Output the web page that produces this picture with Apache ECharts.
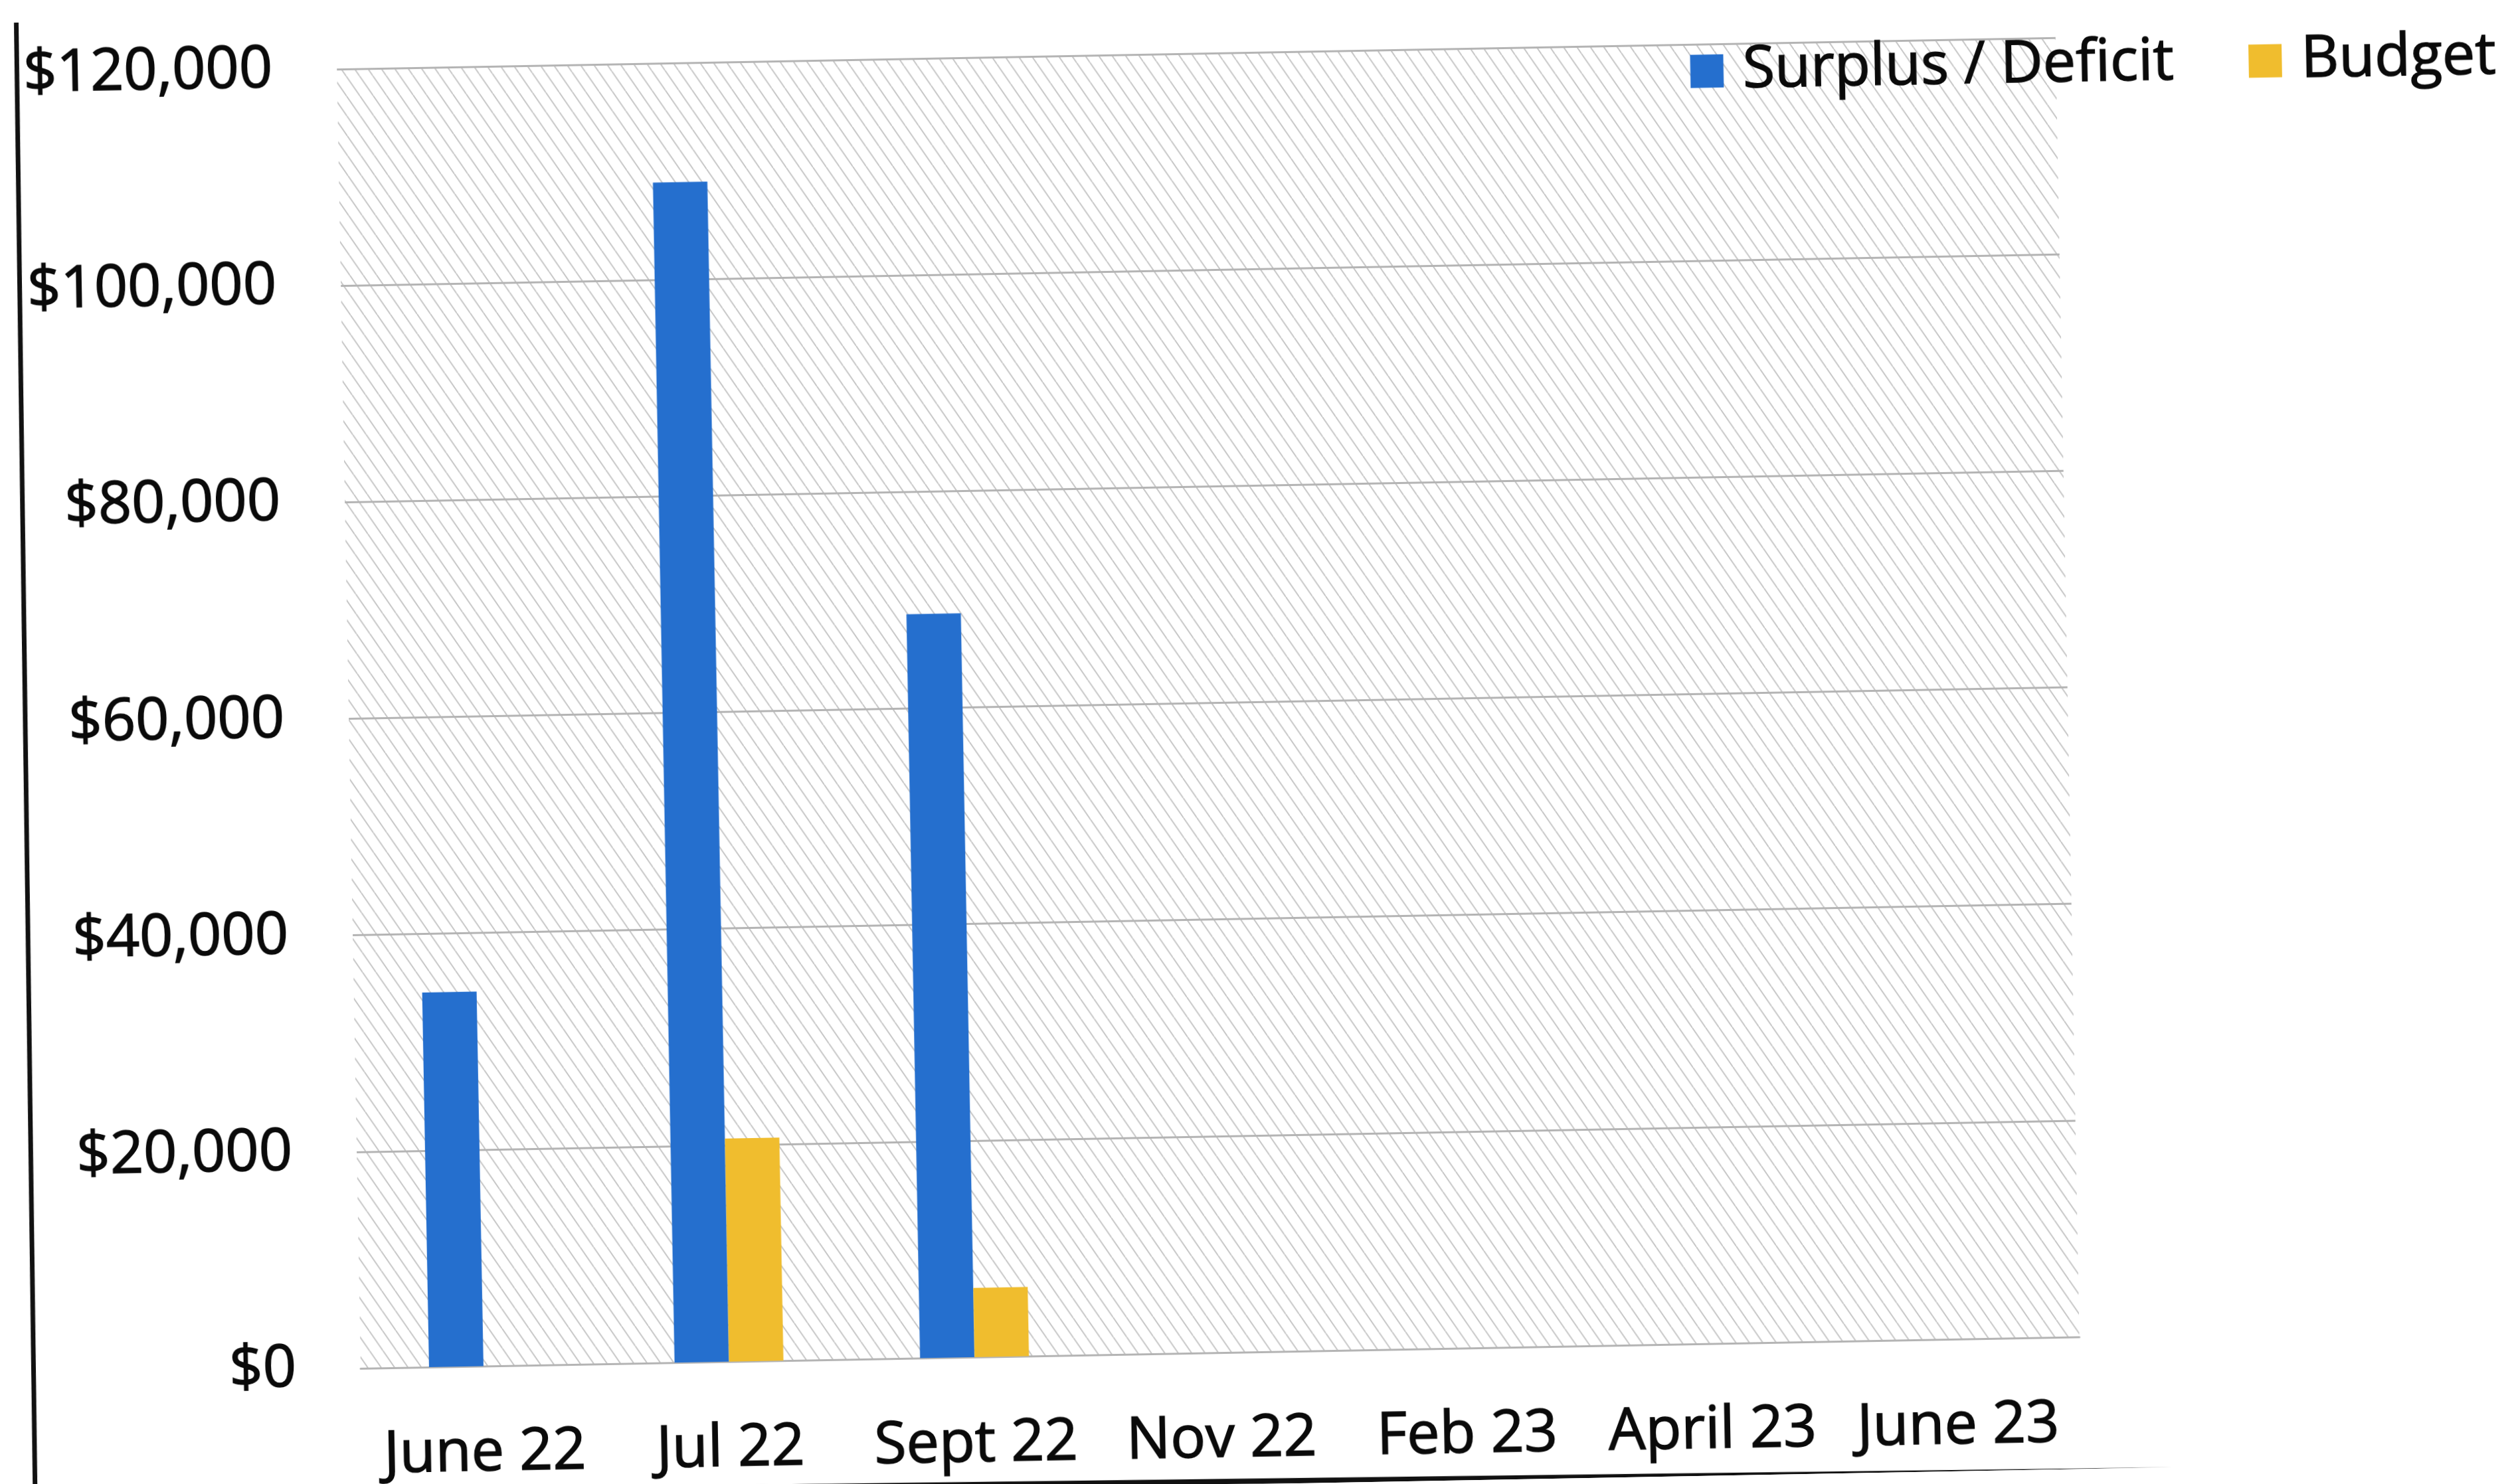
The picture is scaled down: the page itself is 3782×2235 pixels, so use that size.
<!DOCTYPE html>
<html>
<head>
<meta charset="utf-8">
<script src="https://cdn.jsdelivr.net/npm/echarts@6/dist/echarts.min.js"></script>
<style>
  html, body { margin: 0; padding: 0; background: #fff; overflow: hidden; }
  #wrap { position: relative; width: 3782px; height: 2235px; overflow: hidden; background: #fff; }
  /* the scan is a little crooked, so the whole chart is tilted */
  #main { position: absolute; left: 0; top: 0; width: 3782px; height: 2235px;
          transform: rotate(-1.05deg); transform-origin: 1891px 1117.5px; }
</style>
</head>
<body>
<div id="wrap"><div id="main"></div></div>
<script>
var months = ['June 22', 'Jul 22', 'Sept 22', 'Nov 22', 'Feb 23', 'April 23', 'June 23'];
var surplusDeficit = [34600, 109000, 68700, null, null, null, null];
var budget = [null, 20600, 6400, null, null, null, null];
var yMin = 0;
var yMax = 120000;
var yStep = 20000;

var font = '"Open Sans", "Noto Sans", sans-serif';

// diagonal hatch for the plot area (steep, like the scan)
function hatch() {
  var w = 20, h = 30;
  var c = document.createElement('canvas');
  c.width = w;
  c.height = h;
  var ctx = c.getContext('2d');
  ctx.fillStyle = '#ffffff';
  ctx.fillRect(0, 0, w, h);
  ctx.strokeStyle = '#c6c6c6';
  ctx.lineWidth = 2;
  for (var k = -1; k <= 1; k++) {
    ctx.beginPath();
    ctx.moveTo(k * w, 0);
    ctx.lineTo(k * w + w, h);
    ctx.stroke();
  }
  return c;
}

function money(v) {
  return '$' + v.toString().replace(/\B(?=(\d{3})+(?!\d))/g, ',');
}

// scanned text is a bit heavier than the plain font
var label = {
  fontSize: 88,
  color: '#0a0a0a',
  fontFamily: font,
  textBorderColor: '#0a0a0a',
  textBorderWidth: 1.5
};

var chart = echarts.init(document.getElementById('main'), null, { renderer: 'canvas' });

var option = {
  animation: false,
  backgroundColor: '#ffffff',
  textStyle: { fontFamily: font },
  grid: {
    show: true,
    left: 526,
    right: 668,
    top: 79,
    bottom: 199,
    borderWidth: 0,
    backgroundColor: { image: hatch(), repeat: 'repeat' }
  },
  legend: {
    right: 0,
    top: 70,
    icon: 'rect',
    itemWidth: 50,
    itemHeight: 50,
    itemGap: 112,
    textStyle: Object.assign({ padding: [0, 0, 0, 24] }, label),
    data: ['Surplus / Deficit', 'Budget']
  },
  xAxis: {
    type: 'category',
    data: months,
    axisTick: { show: false },
    axisLine: { show: true, lineStyle: { color: '#b4b4b4', width: 3 } },
    axisLabel: Object.assign({ margin: 88, interval: 0 }, label)
  },
  yAxis: {
    type: 'value',
    min: yMin,
    max: yMax,
    interval: yStep,
    axisLine: { show: false },
    axisTick: { show: false },
    axisLabel: Object.assign({ margin: 97, formatter: money }, label),
    splitLine: { lineStyle: { color: '#b4b4b4', width: 3 } }
  },
  series: [{
    name: 'Surplus / Deficit',
    type: 'bar',
    barWidth: 82,
    barGap: '0%',
    itemStyle: { color: '#256fce' },
    data: surplusDeficit
  }, {
    name: 'Budget',
    type: 'bar',
    barWidth: 82,
    barGap: '0%',
    itemStyle: { color: '#f0bd2e' },
    data: budget
  }],
  // edges of the page frame that show in the scan
  graphic: [{
    type: 'line',
    shape: { x1: 45, y1: -60, x2: 32, y2: 2300 },
    style: { stroke: '#111', lineWidth: 7 }
  }, {
    type: 'line',
    shape: { x1: 0, y1: 2219, x2: 3900, y2: 2243 },
    style: { stroke: '#111', lineWidth: 8 }
  }]
};

chart.setOption(option);
</script>
</body>
</html>
